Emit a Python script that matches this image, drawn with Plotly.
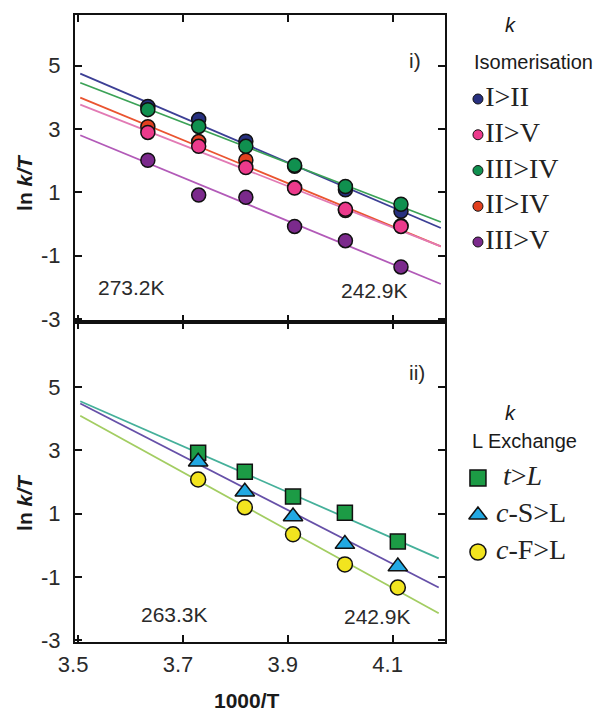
import plotly.graph_objects as go

# ---------------- data ----------------
# top panel: isomerisation (1000/T vs ln k/T)
iso_x = [3.633, 3.730, 3.820, 3.913, 4.010, 4.116]
iso_names = ["I&gt;II", "II&gt;V", "III&gt;IV", "II&gt;IV", "III&gt;V"]
iso_I_II = [3.71, 3.30, 2.61, 1.82, 1.08, 0.40]
iso_II_V = [2.89, 2.45, 1.78, 1.13, 0.46, -0.08]
iso_III_IV = [3.61, 3.08, 2.45, 1.85, 1.18, 0.62]
iso_II_IV = [3.07, 2.60, 2.01, 1.15, 0.42, -0.06]
iso_III_V = [2.01, 0.91, 0.84, -0.08, -0.53, -1.36]
# fitted lines (read at the two ends of the drawn lines)
fit_x = [3.504, 4.192]
fit_I_II = [4.75, -0.13]
fit_II_V = [3.77, -0.71]
fit_III_IV = [4.46, 0.06]
fit_II_IV = [3.99, -0.71]
fit_III_V = [2.80, -1.90]

# bottom panel: L exchange
lex_x = [3.729, 3.818, 3.910, 4.009, 4.110]
lex_names = ["&#160;&#160;<i>t</i>&gt;<i>L</i>", "&#160;<i>c</i>-S&gt;L", "&#160;<i>c</i>-F&gt;L"]
lex_t_L = [2.92, 2.32, 1.54, 1.03, 0.12]
lex_cS_L = [2.64, 1.69, 0.91, 0.04, -0.67]
lex_cF_L = [2.08, 1.20, 0.35, -0.60, -1.33]
fit2_x = [3.504, 4.188]
fit_t_L = [4.55, -0.41]
fit_cS_L = [4.48, -1.33]
fit_cF_L = [4.09, -2.14]

x_ticks = [3.5, 3.7, 3.9, 4.1]
y_ticks = [5, 3, 1, -1, -3]

# ---------------- styles ----------------
iso_series = [
    # (values, fit, marker colour, line colour)
    (iso_I_II, fit_I_II, "#27307f", "#3c3f95"),
    (iso_II_IV, fit_II_IV, "#e2401f", "#ea5430"),
    (iso_II_V, fit_II_V, "#ec3a8c", "#e27ab4"),
    (iso_III_IV, fit_III_IV, "#10904f", "#3ba257"),
    (iso_III_V, fit_III_V, "#7b2a8c", "#b25ab8"),
]
iso_legend_order = [0, 2, 3, 1, 4]  # I>II, II>V, III>IV, II>IV, III>V

lex_series = [
    (lex_t_L, fit_t_L, "#1c9b45", "#45b09a", "square", 15),
    (lex_cS_L, fit_cS_L, "#22a9e3", "#6650a8", "triangle-up", 17),
    (lex_cF_L, fit_cF_L, "#f2e41f", "#a3cd62", "circle", 15),
]

fig = go.Figure()

# top panel lines
for vals, fit, mc, lc in iso_series:
    fig.add_trace(go.Scatter(x=fit_x, y=fit, mode="lines", line=dict(color=lc, width=1.8),
                             xaxis="x", yaxis="y", showlegend=False, hoverinfo="skip"))
for vals, fit, mc, lc in iso_series:
    fig.add_trace(go.Scatter(x=iso_x, y=vals, mode="markers",
                             marker=dict(symbol="circle", size=14, color=mc,
                                         line=dict(color="#111111", width=1.5)),
                             xaxis="x", yaxis="y", showlegend=False))

# bottom panel lines + markers
for vals, fit, mc, lc, sym, sz in lex_series:
    fig.add_trace(go.Scatter(x=fit2_x, y=fit, mode="lines", line=dict(color=lc, width=1.8),
                             xaxis="x2", yaxis="y2", showlegend=False, hoverinfo="skip"))
for vals, fit, mc, lc, sym, sz in lex_series:
    fig.add_trace(go.Scatter(x=lex_x, y=vals, mode="markers",
                             marker=dict(symbol=sym, size=sz, color=mc,
                                         line=dict(color="#111111", width=1.5)),
                             xaxis="x2", yaxis="y2", showlegend=False))

# manual legends on helper axes
leg_font = dict(family="Liberation Serif, Times New Roman, serif", size=28, color="#222222")
for i, idx in enumerate(iso_legend_order):
    vals, fit, mc, lc = iso_series[idx]
    fig.add_trace(go.Scatter(x=[0.164], y=[i], mode="markers+text", text=[iso_names[i]],
                             textposition="middle right", textfont=leg_font,
                             marker=dict(symbol="circle", size=10, color=mc,
                                         line=dict(color="#111111", width=1)),
                             xaxis="x3", yaxis="y3", showlegend=False, hoverinfo="skip"))
for i, (vals, fit, mc, lc, sym, sz) in enumerate(lex_series):
    fig.add_trace(go.Scatter(x=[0.164], y=[i], mode="markers+text", text=[lex_names[i]],
                             textposition="middle right", textfont=leg_font,
                             marker=dict(symbol=sym, size=16, color=mc,
                                         line=dict(color="#111111", width=1.5)),
                             xaxis="x4", yaxis="y4", showlegend=False, hoverinfo="skip"))

# ---------------- layout ----------------
W, H = 595, 712
ml, mr, mt, mb = 75, 0, 15, 70
pw = W - ml - mr
ph = H - mt - mb
xdom = [0, 370 / pw]
split = (ph - 307) / ph
tick_font = dict(family="Liberation Sans, Arial, sans-serif", size=22, color="#2a2a2a")

common_x = dict(range=[3.494, 4.2], tickvals=x_ticks, ticktext=[str(v) for v in x_ticks],
                ticks="inside", ticklen=7, tickwidth=1.5, tickcolor="#111111",
                showline=True, linecolor="#111111", linewidth=2, mirror="ticks",
                showgrid=False, zeroline=False, tickfont=tick_font, domain=xdom)
common_y = dict(tickvals=y_ticks, ticktext=[str(v) for v in y_ticks],
                ticks="inside", ticklen=7, tickwidth=1.5, tickcolor="#111111",
                showline=True, linecolor="#111111", linewidth=2, mirror="ticks",
                showgrid=False, zeroline=False, tickfont=tick_font, ticklabelstandoff=8)

fig.update_layout(
    width=W, height=H, margin=dict(l=ml, r=mr, t=mt, b=mb),
    paper_bgcolor="white", plot_bgcolor="white", hovermode=False, showlegend=False,
    xaxis=dict(common_x, anchor="y", showticklabels=False),
    yaxis=dict(common_y, anchor="x", range=[-3.1, 6.6], domain=[split, 1]),
    xaxis2=dict(common_x, anchor="y2", ticklabelstandoff=2, ticklabelshift=-5),
    yaxis2=dict(common_y, anchor="x2", range=[-3.05, 7.05], domain=[0, split]),
    xaxis3=dict(domain=[380 / pw, 1], range=[0, 1], visible=False, anchor="y3"),
    yaxis3=dict(domain=[split, 1], range=[(322 - 99) / 35.75, (15 - 99) / 35.75],
                visible=False, anchor="x3"),
    xaxis4=dict(domain=[380 / pw, 1], range=[0, 1], visible=False, anchor="y4"),
    yaxis4=dict(domain=[0, split], range=[(642 - 478) / 37, (322 - 478) / 37],
                visible=False, anchor="x4"),
)

lab_font = dict(family="Liberation Sans, Arial, sans-serif", size=21, color="#2a2a2a")
title_font = dict(family="Liberation Sans, Arial, sans-serif", size=21, color="#1a1a1a")
leg_title_font = dict(family="Liberation Sans, Arial, sans-serif", size=20, color="#1a1a1a")
ann = [
    dict(x=3.601, y=-2.02, xref="x", yref="y", text="273.2K", font=lab_font),
    dict(x=4.065, y=-2.12, xref="x", yref="y", text="242.9K", font=lab_font),
    dict(x=4.142, y=5.16, xref="x", yref="y", text="i)", font=lab_font),
    dict(x=3.684, y=-2.18, xref="x2", yref="y2", text="263.3K", font=lab_font),
    dict(x=4.071, y=-2.24, xref="x2", yref="y2", text="242.9K", font=lab_font),
    dict(x=4.147, y=5.47, xref="x2", yref="y2", text="ii)", font=lab_font),
    dict(x=-0.138, y=0.456, xref="x domain", yref="y domain", text="<b>ln <i>k/T</i></b>",
         textangle=-90, font=title_font),
    dict(x=-0.138, y=0.4375, xref="x2 domain", yref="y2 domain", text="<b>ln <i>k/T</i></b>",
         textangle=-90, font=title_font),
    dict(x=0.465, y=-0.184, xref="x2 domain", yref="y2 domain", text="<b>1000/T</b>",
         font=title_font),
    # legend titles
    dict(x=0.393, y=-2.07, xref="x3", yref="y3", text="<i>k</i>", font=leg_title_font),
    dict(x=0.121, y=-1.03, xref="x3", yref="y3", text="Isomerisation", xanchor="left",
         font=leg_title_font),
    dict(x=0.393, y=-1.76, xref="x4", yref="y4", text="<i>k</i>", font=leg_title_font),
    dict(x=0.107, y=-1.0, xref="x4", yref="y4", text="L Exchange", xanchor="left",
         font=leg_title_font),
]
for a in ann:
    a.setdefault("showarrow", False)
    a.setdefault("xanchor", "center")
    a.setdefault("yanchor", "middle")
fig.update_layout(annotations=ann)

fig.write_html("out.html", config={"displayModeBar": False})
